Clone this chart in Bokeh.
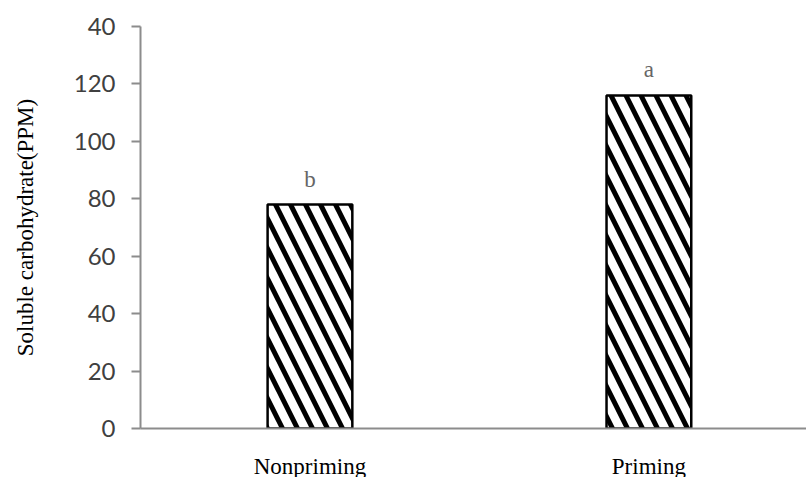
from bokeh.plotting import figure
from bokeh.models import Range1d, FixedTicker, ColumnDataSource
from bokeh.core.properties import value
from bokeh.embed import file_html
from bokeh.resources import INLINE

categories = ["Nonpriming", "Priming"]
values = [78, 116]
letters = ["b", "a"]
y_ticks = [0, 20, 40, 60, 80, 100, 120, 140]
y_tick_labels = ["0", "20", "40", "60", "80", "100", "120", "40"]

xs = [i + 0.5 for i in range(len(categories))]
src = ColumnDataSource(dict(x=xs, top=values, lab=letters))

p = figure(frame_width=666, frame_height=402, output_backend="svg", toolbar_location=None,
           x_range=Range1d(0, 1.965), y_range=Range1d(0, 140),
           min_border_left=140, min_border_top=26, min_border_bottom=40, min_border_right=0)
p.outline_line_color = None
p.xgrid.visible = False
p.ygrid.visible = False

p.vbar(x="x", top="top", width=0.25, source=src, fill_color="white",
       line_color="black", line_width=2.5,
       hatch_pattern="left_diagonal_line", hatch_color="black",
       hatch_weight=5, hatch_scale=30)

p.text(x="x", y="top", text="lab", source=src, text_align="center", text_baseline="bottom",
       y_offset=-13, text_font=value("Liberation Serif"), text_font_size="23px",
       text_color="#666666")

ax = p.yaxis[0]
ax.ticker = FixedTicker(ticks=y_ticks)
ax.major_label_overrides = {t: l for t, l in zip(y_ticks, y_tick_labels)}
ax.axis_line_color = "#8c8c8c"
ax.axis_line_width = 2
ax.major_tick_line_color = "#8c8c8c"
ax.major_tick_line_width = 2
ax.major_tick_out = 9
ax.major_tick_in = 0
ax.minor_tick_line_color = None
ax.major_label_text_font = "Lato"
ax.major_label_text_font_size = "24px"
ax.major_label_text_color = "#404040"
ax.major_label_standoff = 16
ax.axis_label = "Soluble carbohydrate(PPM)"
ax.axis_label_text_font = "Liberation Serif"
ax.axis_label_text_font_style = "normal"
ax.axis_label_text_font_size = "23px"
ax.axis_label_text_color = "#000000"
ax.axis_label_standoff = 33

bx = p.xaxis[0]
bx.ticker = FixedTicker(ticks=xs)
bx.major_label_overrides = {x: c for x, c in zip(xs, categories)}
bx.axis_line_color = "#8c8c8c"
bx.axis_line_width = 2
bx.major_tick_line_color = None
bx.minor_tick_line_color = None
bx.major_label_text_font = "Liberation Serif"
bx.major_label_text_font_size = "23px"
bx.major_label_text_color = "#000000"
bx.major_label_standoff = 19

open("out.html", "w").write(file_html(p, INLINE))
